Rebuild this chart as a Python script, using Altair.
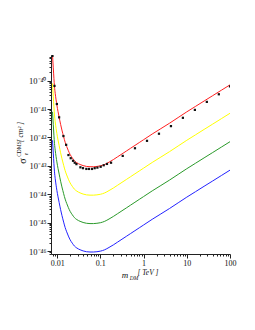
import altair as alt
import pandas as pd

# ---- data (mass in TeV, cross-section in cm^2) ----
mass = [0.00780, 0.00813, 0.00841, 0.00867, 0.00902, 0.00944, 0.00984, 0.01047, 0.01112, 0.01202,
        0.01288, 0.01413, 0.01531, 0.01660, 0.01820, 0.01995, 0.02239, 0.02512, 0.02851, 0.03388,
        0.03981, 0.04786, 0.05754, 0.06918, 0.08318, 0.1000, 0.1259, 0.1585, 0.1995, 0.2512,
        0.3162, 0.3981, 0.5012, 0.6310, 0.7943, 1.000, 1.585, 2.512, 3.981, 6.310,
        10.00, 15.85, 25.12, 39.81, 63.10, 100.0]
sigma_red = [7.94e-40, 2.82e-40, 1.20e-40, 6.17e-41, 3.55e-41, 2.09e-41, 1.38e-41, 8.13e-42, 5.13e-42, 2.88e-42,
             1.82e-42, 1.05e-42, 6.76e-43, 4.79e-43, 3.39e-43, 2.51e-43, 1.91e-43, 1.51e-43, 1.29e-43, 1.12e-43,
             1.02e-43, 9.55e-44, 9.33e-44, 9.33e-44, 9.55e-44, 1.00e-43, 1.12e-43, 1.35e-43, 1.66e-43, 2.09e-43,
             2.63e-43, 3.31e-43, 4.17e-43, 5.25e-43, 6.61e-43, 8.32e-43, 1.32e-42, 2.04e-42, 3.16e-42, 5.01e-42,
             7.94e-42, 1.23e-41, 1.91e-41, 2.95e-41, 4.57e-41, 7.08e-41]
sigma_yellow = [7.94e-41, 2.82e-41, 1.20e-41, 6.17e-42, 3.55e-42, 2.09e-42, 1.38e-42, 8.13e-43, 5.13e-43, 2.88e-43,
                1.82e-43, 1.05e-43, 6.76e-44, 4.79e-44, 3.39e-44, 2.51e-44, 1.91e-44, 1.51e-44, 1.29e-44, 1.12e-44,
                1.02e-44, 9.55e-45, 9.33e-45, 9.33e-45, 9.55e-45, 1.00e-44, 1.12e-44, 1.35e-44, 1.66e-44, 2.09e-44,
                2.63e-44, 3.31e-44, 4.17e-44, 5.25e-44, 6.61e-44, 8.32e-44, 1.32e-43, 2.04e-43, 3.16e-43, 5.01e-43,
                7.94e-43, 1.23e-42, 1.91e-42, 2.95e-42, 4.57e-42, 7.08e-42]
sigma_green = [7.94e-42, 2.82e-42, 1.20e-42, 6.17e-43, 3.55e-43, 2.09e-43, 1.38e-43, 8.13e-44, 5.13e-44, 2.88e-44,
               1.82e-44, 1.05e-44, 6.76e-45, 4.79e-45, 3.39e-45, 2.51e-45, 1.91e-45, 1.51e-45, 1.29e-45, 1.12e-45,
               1.02e-45, 9.55e-46, 9.33e-46, 9.33e-46, 9.55e-46, 1.00e-45, 1.12e-45, 1.35e-45, 1.66e-45, 2.09e-45,
               2.63e-45, 3.31e-45, 4.17e-45, 5.25e-45, 6.61e-45, 8.32e-45, 1.32e-44, 2.04e-44, 3.16e-44, 5.01e-44,
               7.94e-44, 1.23e-43, 1.91e-43, 2.95e-43, 4.57e-43, 7.08e-43]
sigma_blue = [7.94e-43, 2.82e-43, 1.20e-43, 6.17e-44, 3.55e-44, 2.09e-44, 1.38e-44, 8.13e-45, 5.13e-45, 2.88e-45,
              1.82e-45, 1.05e-45, 6.76e-46, 4.79e-46, 3.39e-46, 2.51e-46, 1.91e-46, 1.51e-46, 1.29e-46, 1.12e-46,
              1.02e-46, 9.55e-47, 9.33e-47, 9.33e-47, 9.55e-47, 1.00e-46, 1.12e-46, 1.35e-46, 1.66e-46, 2.09e-46,
              2.63e-46, 3.31e-46, 4.17e-46, 5.25e-46, 6.61e-46, 8.32e-46, 1.32e-45, 2.04e-45, 3.16e-45, 5.01e-45,
              7.94e-45, 1.23e-44, 1.91e-44, 2.95e-44, 4.57e-44, 7.08e-44]

series_names = ["red", "yellow", "green", "blue"]
series_colors = ["#ff1f1f", "#ffff00", "#2a9a2a", "#2323ff"]

dots_mass = [0.00778, 0.00867, 0.00984, 0.0111, 0.01396, 0.01614, 0.01824, 0.0206, 0.0233, 0.0255,
             0.0279, 0.0345, 0.0396, 0.0474, 0.0544, 0.0640, 0.0738, 0.0853, 0.1016, 0.1194,
             0.1422, 0.1766, 0.329, 0.632, 1.2, 2.27, 4.3, 8.13, 15.4, 29.1, 55.1, 100.0]
dots_sigma = [7.4e-40, 6.5e-41, 1.5e-41, 5.1e-42, 1.12e-42, 5.5e-43, 2.4e-43, 1.86e-43, 1.51e-43, 1.29e-43,
              1.15e-43, 8.9e-44, 8.3e-44, 7.8e-44, 7.8e-44, 7.8e-44, 8.3e-44, 8.7e-44, 9.3e-44, 1.05e-43,
              1.17e-43, 1.29e-43, 2.24e-43, 4.17e-43, 7.6e-43, 1.35e-42, 2.5e-42, 4.9e-42, 9.3e-42, 1.78e-41,
              3.3e-41, 6.2e-41]

x_ticks = [0.01, 0.1, 1, 10, 100]
x_tick_labels = ["0.01", "0.1", "1", "10", "100"]
y_ticks = [1e-46, 1e-45, 1e-44, 1e-43, 1e-42, 1e-41, 1e-40]
y_tick_labels = ["10⁻⁴⁶", "10⁻⁴⁵", "10⁻⁴⁴", "10⁻⁴³", "10⁻⁴²", "10⁻⁴¹", "10⁻⁴⁰"]

x_title_m, x_title_sub, x_title_unit = "m", "DM", "[ TeV ]"
y_title_sigma, y_title_sub, y_title_sup, y_title_unit = "σ", "e", "CDMS", "[ cm² ]"

x_domain = [0.0072, 100]
y_domain = [7.94e-47, 7.94e-40]

# ---- tables ----
rows = []
for name, vals in zip(series_names, [sigma_red, sigma_yellow, sigma_green, sigma_blue]):
    for i, (m, s) in enumerate(zip(mass, vals)):
        rows.append({"mass": m, "sigma": s, "series": name, "order": i})
curves_df = pd.DataFrame(rows)
dots_df = pd.DataFrame({"mass": dots_mass, "sigma": dots_sigma})

# minor tick positions (2..9 per decade)
x_minor = [d * k for d in [0.001, 0.01, 0.1, 1, 10] for k in range(2, 10)]
x_vals = sorted(set([v for v in x_minor if x_domain[0] <= v <= x_domain[1]] + x_ticks))
y_minor = [d * k for d in [1e-47, 1e-46, 1e-45, 1e-44, 1e-43, 1e-42, 1e-41, 1e-40] for k in range(2, 10)]
y_vals = sorted(set([v for v in y_minor if y_domain[0] <= v <= y_domain[1]] + y_ticks))


def label_expr(ticks, labels):
    parts = [f"abs(datum.value - {v!r}) < {v * 1e-6!r} ? '{lab}' : " for v, lab in zip(ticks, labels)]
    return "".join(parts) + "''"


major_test = "abs(log(datum.value)/LN10 - round(log(datum.value)/LN10)) < 0.001"
FONT = "Liberation Serif"
AX = "#222222"

x_axis = alt.Axis(values=x_vals, labelExpr=label_expr(x_ticks, x_tick_labels), title=None,
                  grid=False, domainColor=AX, tickColor=AX, labelColor="#111111",
                  labelFont=FONT, labelFontSize=8, labelPadding=1, labelFlush=False,
                  tickSize={"condition": {"test": major_test, "value": 4}, "value": 2},
                  labelOverlap=False)
y_axis = alt.Axis(values=y_vals, labelExpr=label_expr(y_ticks, y_tick_labels), title=None,
                  grid=False, domainColor=AX, tickColor=AX, labelColor="#111111",
                  labelFont=FONT, labelFontSize=8.5, labelPadding=1, labelFlush=False,
                  tickSize={"condition": {"test": major_test, "value": 4}, "value": 2},
                  labelOverlap=False)

xs = alt.Scale(type="log", domain=x_domain, nice=False)
ys = alt.Scale(type="log", domain=y_domain, nice=False)

curves = alt.Chart(curves_df).mark_line(strokeWidth=1, interpolate="monotone", clip=True).encode(
    x=alt.X("mass:Q", scale=xs, axis=x_axis),
    y=alt.Y("sigma:Q", scale=ys, axis=y_axis),
    color=alt.Color("series:N", scale=alt.Scale(domain=series_names, range=series_colors), legend=None),
    order="order:Q",
)

dots = alt.Chart(dots_df).mark_square(size=5, color="#111111", opacity=1, clip=True).encode(
    x=alt.X("mass:Q", scale=xs),
    y=alt.Y("sigma:Q", scale=ys),
)


def txt(s, x, y, size, angle=0, style="normal", align="center"):
    return alt.Chart(pd.DataFrame({"t": [s]})).mark_text(
        font=FONT, fontSize=size, fontStyle=style, angle=angle, align=align,
        baseline="middle", color="#111111"
    ).encode(text="t:N", x=alt.value(x), y=alt.value(y))


titles = [
    txt(x_title_m, 74, 220, 9, style="italic"),
    txt(x_title_sub, 83, 223, 5.5, style="italic"),
    txt(x_title_unit, 97, 218, 7.5, style="italic"),
    txt(y_title_sigma, -28, 106, 10, angle=270),
    txt(y_title_sub, -25, 99, 5.5, angle=270, style="italic"),
    txt(y_title_sup, -32, 94, 5.5, angle=270),
    txt(y_title_unit, -30, 77, 7.5, angle=270, style="italic"),
]

chart = alt.layer(curves, dots, *titles).properties(
    width=179, height=199,
    padding={"left": 43, "top": 47, "right": 17, "bottom": 68},
    autosize=alt.AutoSizeParams(type="none"),
    background="white",
).configure_view(stroke=None)

chart.save("out.html", embed_options={"renderer": "svg", "actions": False})
